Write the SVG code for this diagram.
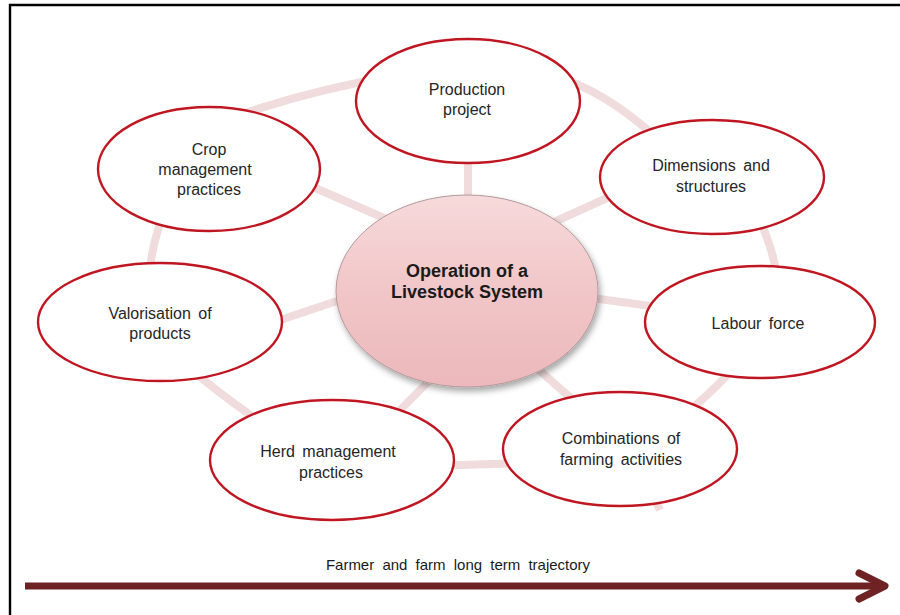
<svg xmlns="http://www.w3.org/2000/svg" width="900" height="615" viewBox="0 0 900 615">
<style>
.ring{fill:none;stroke:#f0dcdd;stroke-width:8;stroke-linecap:butt}
.node{fill:#ffffff;stroke:#bf1622;stroke-width:2.4}
.lbl{font-family:"Liberation Sans",Arial,sans-serif;font-size:16px;fill:#262626;text-anchor:middle;word-spacing:3px}
.ctr{font-family:"Liberation Sans",Arial,sans-serif;font-size:18px;font-weight:bold;fill:#1a1a1a;text-anchor:middle}
.cap{font-family:"Liberation Sans",Arial,sans-serif;font-size:15px;fill:#1a1a1a;text-anchor:middle;word-spacing:4px}
</style>
<defs>
<linearGradient id="cg" x1="0" y1="0" x2="0" y2="1">
<stop offset="0" stop-color="#f7dadb"/>
<stop offset="0.5" stop-color="#f1c6c8"/>
<stop offset="1" stop-color="#ecb8bb"/>
</linearGradient>
<filter id="sh" x="-20%" y="-20%" width="140%" height="150%">
<feDropShadow dx="2" dy="4" stdDeviation="3" flood-color="#000" flood-opacity="0.35"/>
</filter>
<marker id="ah" markerWidth="40" markerHeight="40" refX="0" refY="0" orient="auto" markerUnits="userSpaceOnUse" viewBox="-34 -20 40 40" overflow="visible">
<path d="M-26,-13 L0,0 L-26,13" fill="none" stroke="#6e2224" stroke-width="7" stroke-linecap="round" stroke-linejoin="round"/>
</marker>
</defs>
<rect width="900" height="615" fill="#ffffff"/>
<path d="M10,615 V5 H900" fill="none" stroke="#000" stroke-width="2.4"/>

<g id="connectors">
<path class="ring" d="M245,113 Q320,88 400,75"/>
<path class="ring" d="M540,75 Q600,80 680,160"/>
<path class="ring" d="M755,210 Q773,245 780,290"/>
<path class="ring" d="M740,360 Q712,395 670,425"/>
<path class="ring" d="M650,490 L660,510"/>
<path class="ring" d="M430,466 L530,463"/>
<path class="ring" d="M265,425 Q220,395 180,360"/>
<path class="ring" d="M148,290 Q150,240 170,200"/>
<line class="ring" x1="468" y1="150" x2="468" y2="215"/>
<line class="ring" x1="530" y1="233" x2="640" y2="183"/>
<line class="ring" x1="570" y1="295" x2="680" y2="310"/>
<line class="ring" x1="505" y1="340" x2="590" y2="415"/>
<line class="ring" x1="460" y1="350" x2="380" y2="430"/>
<line class="ring" x1="250" y1="330" x2="370" y2="290"/>
<line class="ring" x1="290" y1="177" x2="400" y2="225"/>
</g>

<g id="center">
<ellipse cx="467" cy="291" rx="131" ry="96" fill="url(#cg)" stroke="#b39a9b" stroke-width="1" filter="url(#sh)"/>
<text class="ctr" x="467" y="277">Operation of a</text>
<text class="ctr" x="467" y="298">Livestock System</text>
</g>

<g id="production">
<ellipse class="node" cx="468" cy="101" rx="112" ry="62"/>
<text class="lbl" x="467" y="95">Production</text>
<text class="lbl" x="467" y="115">project</text>
</g>

<g id="dimensions">
<ellipse class="node" cx="712" cy="177" rx="112" ry="57"/>
<text class="lbl" x="711" y="171">Dimensions and</text>
<text class="lbl" x="711" y="192">structures</text>
</g>

<g id="labour">
<ellipse class="node" cx="760" cy="322" rx="115" ry="56"/>
<text class="lbl" x="758" y="329">Labour force</text>
</g>

<g id="combinations">
<ellipse class="node" cx="620" cy="449" rx="117" ry="57"/>
<text class="lbl" x="621" y="444">Combinations of</text>
<text class="lbl" x="621" y="465">farming activities</text>
</g>

<g id="herd">
<ellipse class="node" cx="332" cy="460" rx="122" ry="60"/>
<text class="lbl" x="328" y="457">Herd management</text>
<text class="lbl" x="331" y="478">practices</text>
</g>

<g id="valorisation">
<ellipse class="node" cx="160" cy="322" rx="122" ry="59"/>
<text class="lbl" x="160" y="319">Valorisation of</text>
<text class="lbl" x="160" y="339">products</text>
</g>

<g id="crop">
<ellipse class="node" cx="209" cy="169" rx="111" ry="62"/>
<text class="lbl" x="209" y="155">Crop</text>
<text class="lbl" x="205" y="175">management</text>
<text class="lbl" x="209" y="195">practices</text>
</g>

<g id="trajectory">
<line x1="25" y1="586" x2="885" y2="586" stroke="#6e2224" stroke-width="7" marker-end="url(#ah)"/>
<text class="cap" x="458" y="570">Farmer and farm long term trajectory</text>
</g>
</svg>
